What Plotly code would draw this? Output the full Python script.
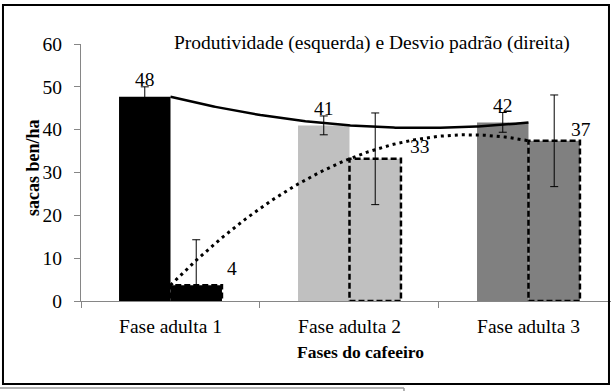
import numpy as np
import plotly.graph_objects as go

# ---- data ----
categories = ["Fase adulta 1", "Fase adulta 2", "Fase adulta 3"]
produtividade = [47.7, 41.0, 41.7]
produtividade_err = [2.3, 2.2, 2.3]
desvio = [3.7, 33.2, 37.4]
desvio_err = [10.6, 10.7, 10.7]
prod_labels = ["48", "41", "42"]
desvio_labels = ["4", "33", "37"]
y_ticks = [0, 10, 20, 30, 40, 50, 60]

# ---- style ----
fills = ["#000000", "#c0c0c0", "#808080"]
FONT = "'Liberation Serif', 'Times New Roman', serif"
FS = 19.5
axis_col = "#868686"
bargap = 0.425
half = (1 - bargap) / 2
desvio_label_dx = [36, 45, 27]     # pixel offsets of right-hand labels
desvio_label_dy = [17, 12, 11]

xpos = np.arange(1, len(categories) + 1)

fig = go.Figure()
fig.add_bar(x=xpos, y=produtividade, marker=dict(color=fills, line=dict(width=0)),
            error_y=dict(type="data", array=produtividade_err, color="black",
                         thickness=1, width=4),
            name="Produtividade", showlegend=False)
fig.add_bar(x=xpos, y=desvio, marker=dict(color=fills, line=dict(width=0)),
            error_y=dict(type="data", array=desvio_err, color="black",
                         thickness=1, width=4),
            name="Desvio padrão", showlegend=False)

# dashed outlines for the Desvio padrão bars
for i, v in enumerate(desvio):
    fig.add_shape(type="rect", xref="x", yref="y", x0=xpos[i], x1=xpos[i] + half,
                  y0=0, y1=v, line=dict(color="black", width=2.5, dash="6px,3px"),
                  layer="above")

# polynomial (order 2) trendlines
xs = np.linspace(1, 3, 200)
cp = np.polyfit(xpos, produtividade, 2)
cd = np.polyfit(xpos, desvio, 2)
fig.add_scatter(x=xs, y=np.polyval(cp, xs), mode="lines",
                line=dict(color="black", width=2.5), showlegend=False, hoverinfo="skip")
fig.add_scatter(x=xs, y=np.polyval(cd, xs), mode="lines",
                line=dict(color="black", width=3, dash="3px,4px"), showlegend=False,
                hoverinfo="skip")

# value labels
for i in range(len(categories)):
    fig.add_annotation(x=xpos[i] - half / 2, y=produtividade[i], text=prod_labels[i],
                       showarrow=False, yanchor="middle", yshift=17,
                       font=dict(family=FONT, size=FS, color="black"))
    fig.add_annotation(x=xpos[i] + half / 2, y=desvio[i], text=desvio_labels[i],
                       showarrow=False, yanchor="middle", xshift=desvio_label_dx[i],
                       yshift=desvio_label_dy[i],
                       font=dict(family=FONT, size=FS, color="black"))

fig.add_annotation(xref="paper", yref="paper", x=0.1717, y=1.0039, xanchor="left",
                   yanchor="middle", showarrow=False,
                   text="Produtividade (esquerda) e Desvio padrão (direita)",
                   font=dict(family=FONT, size=FS, color="black"))

# axis titles
fig.add_annotation(xref="paper", yref="paper", x=-0.0906, y=0.521, xanchor="center",
                   yanchor="middle", showarrow=False, textangle=-90,
                   text="<b>sacas ben/ha</b>",
                   font=dict(family=FONT, size=18, color="black"))
fig.add_annotation(xref="paper", yref="paper", x=0.528, y=-0.198, xanchor="center",
                   yanchor="middle", showarrow=False,
                   text="<b>Fases do cafeeiro</b>",
                   font=dict(family=FONT, size=17.5, color="black"))

# outer frame
fig.add_shape(type="rect", xref="paper", yref="paper", x0=-0.1472, x1=0.9962,
              y0=-0.323, y1=1.1518, line=dict(color="black", width=2), layer="above")
# fragment of neighbouring box below
fig.add_shape(type="line", xref="paper", yref="paper", x0=-0.16, x1=0.6094,
              y0=-0.339, y1=-0.339, line=dict(color="#9a9a9a", width=1.5))
fig.add_shape(type="line", xref="paper", yref="paper", x0=0.6094, x1=0.6094,
              y0=-0.339, y1=-0.40, line=dict(color="#9a9a9a", width=1.5))

fig.update_layout(
    width=614, height=391,
    margin=dict(l=81, r=3, t=44, b=90),
    paper_bgcolor="white", plot_bgcolor="white",
    barmode="group", bargap=bargap, bargroupgap=0,
    font=dict(family=FONT, size=FS, color="black"),
    showlegend=False,
)
fig.update_xaxes(
    range=[0.5, 3.461], tickvals=list(xpos), ticktext=categories, ticks="",
    showline=True, linecolor=axis_col, linewidth=1, showgrid=False, zeroline=False,
    minor=dict(tickvals=[0.5, 1.5, 2.5, 3.5], ticks="outside", ticklen=6,
               tickcolor=axis_col, tickwidth=1, showgrid=False),
    tickfont=dict(family=FONT, size=FS, color="black"),
    ticklabelstandoff=8,
)
fig.update_yaxes(
    range=[0, 60], tickvals=y_ticks, ticks="outside", ticklen=6, tickcolor=axis_col,
    showline=True, linecolor=axis_col, linewidth=1, showgrid=False, zeroline=False,
    tickfont=dict(family=FONT, size=FS, color="black"),
    ticklabelstandoff=8,
)

fig.write_html("out.html", config={"displayModeBar": False},
               post_script="document.body.style.margin='0';")
